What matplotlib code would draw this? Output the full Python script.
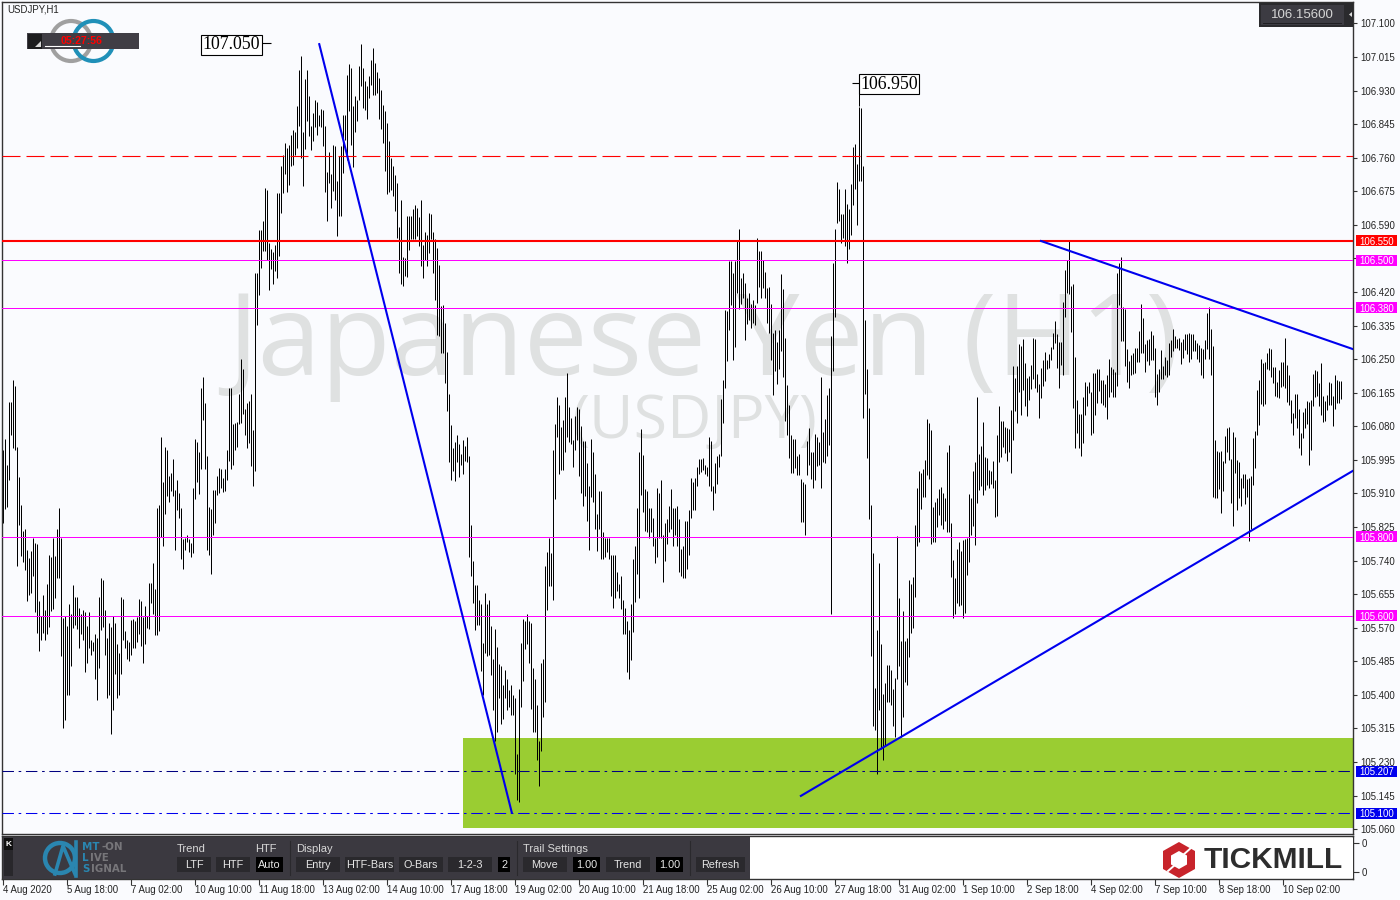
import matplotlib
matplotlib.use("Agg")
import matplotlib.pyplot as plt
from matplotlib.patches import Rectangle, Arc, Polygon
from matplotlib.transforms import blended_transform_factory, ScaledTranslation

SYMBOL = "USDJPY,H1"
BG = "#fafbfe"

# bar highs / lows, in points (0.001) above 105.000, one per hourly bar
high_points = [
1021,1049,983,1141,1141,1196,1182,1027,951,882,
816,819,768,747,764,796,785,783,637,599,
652,616,680,753,748,796,751,819,872,796,
594,599,574,629,604,677,647,647,621,604,
616,611,574,611,540,535,553,544,647,697,
692,614,543,583,571,599,581,530,507,647,
642,561,538,535,589,593,586,596,642,637,
596,625,601,684,684,735,669,872,880,1054,
940,1027,1021,954,963,996,918,945,912,872,
794,796,806,794,785,925,1049,1039,1014,1178,
1204,1138,1004,875,870,918,920,954,975,971,
948,971,1021,1178,1178,1085,1089,1092,1163,1250,
1224,1123,1140,1143,1161,1070,1468,1468,1578,1578,
1599,1683,1679,1544,1530,1521,1540,1671,1671,1738,
1768,1797,1785,1793,1818,1829,1826,1890,1981,2017,
1824,1959,1981,1917,1840,1872,1907,1902,1869,1884,
1882,1841,1725,1774,1719,1791,1789,1702,1765,1789,
1869,1869,1970,1996,1987,1890,1916,1907,1993,2049,
1988,1954,1941,1966,2008,2038,2000,1976,1962,1932,
1894,1878,1848,1803,1759,1738,1717,1696,1585,1654,
1509,1506,1613,1613,1612,1629,1639,1633,1609,1654,
1538,1571,1565,1620,1618,1571,1553,1532,1489,1384,
1388,1342,1269,1163,1084,1026,1040,1059,1036,1011,
1046,1031,1054,1006,829,740,679,679,639,631,
532,658,629,641,575,492,568,522,477,472,
424,462,441,413,424,401,392,251,416,532,
591,586,606,586,583,469,441,375,284,482,
492,727,763,798,758,1019,1087,1153,1135,1077,
1097,1153,1215,1130,1102,1046,1105,1130,1125,1082,
1044,1044,986,930,1049,1016,958,857,916,917,
813,798,798,798,755,755,753,712,682,700,
639,621,588,565,631,743,776,874,1016,1072,
1008,922,915,872,872,849,796,925,912,943,
806,836,846,879,922,874,872,879,846,770,
776,841,839,867,948,938,950,976,996,998,
1001,981,978,1054,1044,930,988,1006,1011,1148,
1198,1374,1372,1498,1498,1469,1498,1549,1579,1455,
1467,1442,1404,1417,1389,1399,1386,1556,1523,1523,
1500,1471,1429,1432,1389,1315,1323,1293,1323,1465,
1427,1303,1184,1133,1057,1047,1047,1006,1011,946,
938,933,1044,1075,1014,1014,1060,1054,1039,1206,
1065,1098,1158,1176,1308,1493,1579,1698,1680,1617,
1617,1680,1642,1630,1693,1786,1794,1743,1888,1885,
1738,1348,1224,1127,882,759,417,565,734,529,
402,430,476,476,463,414,443,802,645,537,
612,536,545,690,682,699,829,924,966,963,
973,994,1099,1088,1071,876,889,899,922,927,
912,899,1015,1032,835,741,695,769,786,764,
792,794,798,908,898,966,989,1154,1009,1029,
1090,1002,999,969,966,992,943,1057,1131,1093,
1093,1078,1075,1073,1121,1232,1202,1232,1288,1283,
1300,1239,1202,1207,1235,1303,1300,1212,1187,1227,
1247,1268,1247,1262,1280,1316,1346,1313,1293,1293,
1394,1475,1500,1549,1435,1440,1255,1146,1111,1111,
1154,1192,1182,1192,1166,1216,1214,1224,1224,1197,
1197,1187,1209,1250,1230,1224,1218,1468,1493,1508,
1381,1376,1275,1245,1260,1265,1278,1278,1321,1389,
1354,1288,1298,1300,1321,1311,1277,1212,1224,1273,
1232,1255,1247,1290,1298,1326,1308,1300,1303,1293,
1300,1313,1313,1316,1313,1313,1298,1290,1285,1278,
1275,1298,1366,1383,1326,1283,1045,1017,1014,1017,
992,1055,1075,1078,997,1065,1052,994,989,948,
959,959,946,948,954,1050,1067,1171,1197,1250,
1240,1242,1265,1278,1275,1230,1230,1191,1222,1242,
1242,1303,1235,1209,1146,1113,1161,1161,1123,1062,
1116,1126,1143,1141,1146,1212,1222,1219,1189,1240,
1156,1143,1159,1191,1189,1156,1209,1197,1194,1194,
]
low_points = [
836,870,875,945,1059,1026,1021,726,830,751,
736,716,637,652,659,701,611,556,510,539,
556,540,553,572,613,618,645,697,697,498,
317,336,401,401,474,569,578,568,520,553,
540,458,482,520,500,510,439,388,469,564,
571,502,391,399,301,361,454,391,401,454,
538,520,490,487,502,518,520,535,553,525,
480,530,569,568,633,606,551,551,561,800,
778,859,903,888,915,903,768,867,849,743,
720,766,786,763,750,758,897,938,908,971,
1097,971,768,753,707,806,834,905,910,925,
913,916,945,991,973,983,1021,1027,1087,1089,
1110,1058,1025,1038,979,929,966,1337,1413,1480,
1523,1523,1502,1426,1477,1439,1472,1456,1510,1620,
1671,1720,1674,1692,1738,1742,1768,1785,1840,1759,
1688,1782,1852,1814,1779,1802,1838,1818,1841,1838,
1789,1672,1599,1696,1633,1675,1654,1561,1612,1612,
1721,1806,1755,1878,1791,1736,1824,1852,1905,1941,
1886,1882,1859,1911,1945,1920,1920,1924,1859,1833,
1796,1726,1667,1672,1679,1662,1624,1557,1468,1439,
1434,1460,1458,1527,1553,1553,1554,1561,1536,1485,
1456,1502,1485,1519,1553,1468,1401,1312,1308,1266,
1266,1190,1118,989,943,966,941,989,951,981,
960,992,989,749,700,633,565,578,578,460,
401,506,498,500,451,363,283,305,391,326,
340,391,363,370,350,350,201,135,130,369,
435,517,530,482,365,307,307,234,170,259,
343,383,616,675,675,641,897,1052,960,970,
970,1016,1052,1041,1034,978,1021,1046,955,910,
877,903,839,768,902,889,819,765,821,743,
745,750,763,743,651,621,646,662,646,618,
553,553,459,439,489,558,636,705,646,907,
864,816,813,796,813,778,735,750,798,798,
687,740,781,813,821,778,806,776,710,700,
697,697,720,753,849,867,869,930,960,965,
970,960,955,930,915,869,912,935,978,1006,
1089,1176,1245,1324,1386,1248,1280,1417,1376,1389,
1404,1298,1338,1348,1328,1341,1336,1391,1432,1404,
1429,1404,1341,1315,1247,1158,1219,1186,1224,1270,
1204,1093,1057,999,961,961,974,956,956,838,
837,804,956,981,946,923,943,979,981,925,
989,986,1006,1032,604,1219,1356,1595,1600,1545,
1556,1536,1494,1530,1564,1640,1680,1590,1700,1701,
1102,1161,999,846,498,322,311,201,363,264,
236,270,381,383,375,322,294,441,472,294,
343,433,424,495,556,570,647,776,788,870,
902,902,957,946,781,787,787,824,855,829,
820,840,812,812,698,594,604,632,624,627,
594,607,703,736,804,827,779,885,918,928,
905,918,931,923,933,923,850,852,989,1002,
1027,1012,992,1014,961,1045,1118,1088,1166,1108,
1171,1131,1106,1146,1174,1199,1176,1166,1100,1151,
1181,1194,1224,1227,1247,1275,1290,1227,1176,1235,
1209,1356,1417,1414,1318,1126,1024,1063,1024,1004,
1037,1108,1131,1164,1057,1063,1108,1138,1169,1138,
1133,1128,1098,1154,1166,1154,1154,1181,1387,1295,
1295,1232,1192,1176,1209,1212,1214,1242,1242,1265,
1265,1217,1245,1235,1248,1248,1154,1133,1166,1199,
1199,1209,1204,1209,1256,1270,1278,1278,1273,1237,
1254,1273,1262,1242,1250,1270,1270,1250,1242,1209,
1202,1250,1275,1250,1209,900,898,898,921,860,
916,986,1014,994,885,827,961,867,898,878,
923,883,900,789,819,931,974,1057,1083,1136,
1131,1136,1224,1222,1204,1189,1156,1153,1151,1179,
1181,1176,1141,1133,1088,1057,1100,1075,1024,1007,
1050,1075,1085,981,1019,1131,1153,1156,1131,1108,
1090,1093,1121,1133,1133,1080,1123,1138,1138,1148,
]
bar_numbers = list(range(1, len(high_points) + 1))

price_ticks = [107.100,107.015,106.930,106.845,106.760,106.675,106.590,106.505,106.420,
               106.335,106.250,106.165,106.080,105.995,105.910,105.825,105.740,105.655,
               105.570,105.485,105.400,105.315,105.230,105.145,105.060]
covered_tick = 106.505
time_labels = ["4 Aug 2020","5 Aug 18:00","7 Aug 02:00","10 Aug 10:00","11 Aug 18:00",
               "13 Aug 02:00","14 Aug 10:00","17 Aug 18:00","19 Aug 02:00","20 Aug 10:00",
               "21 Aug 18:00","25 Aug 02:00","26 Aug 10:00","27 Aug 18:00","31 Aug 02:00",
               "1 Sep 10:00","2 Sep 18:00","4 Sep 02:00","7 Sep 10:00","8 Sep 18:00","10 Sep 02:00"]
tick_bars = [1 + 32 * k for k in range(len(time_labels))]

tagged_levels = [106.550, 106.500, 106.380, 105.800, 105.600, 105.207, 105.100]
tag_colors = ["#ff0000", "#ff00ff", "#ff00ff", "#ff00ff", "#ff00ff", "#0000ee", "#0000ee"]
dashed_level = 106.765
fall_bars, fall_prices = [159.1, 255.6], [107.05, 105.10]
rise_bars, rise_prices = [399.6, 676.3], [105.143, 105.968]
cap_bars, cap_prices = [519.6, 676.3], [106.550, 106.275]
zone_bars, zone_prices = [231.1, 677], [105.062, 105.292]
peak_a, peak_b = 107.050, 106.950
current_price = "106.15600"

W, H = 1400, 900
fig = plt.figure(figsize=(14, 9), dpi=100, facecolor=BG)
plt.rcParams["font.family"] = ["Liberation Sans", "DejaVu Sans"]

def add_box(x0, y0, x1, y1):
    return fig.add_axes([x0 / W, 1 - y1 / H, (x1 - x0) / W, (y1 - y0) / H])

ax = add_box(2, 2, 1353, 834)
ax.set_facecolor(BG)
ax.set_xlim(0.6, 676.1)
ax.set_ylim(107.1 - 810.6 / 395, 107.1 + 21.4 / 395)

# watermark
wm = dict(color="#dfe1e1", zorder=0, ha="center", va="center", family="Open Sans")
ax.text(351, 106.285, "Japanese Yen (H1)", fontsize=82, **wm)
ax.text(347, 106.09, "(USDJPY)", fontsize=44, **wm)

# demand zone
ax.add_patch(Rectangle((zone_bars[0], zone_prices[0]), zone_bars[1] - zone_bars[0],
                       zone_prices[1] - zone_prices[0], facecolor="#9acd32", edgecolor="none", zorder=1))

# price bars
bars = ax.vlines(bar_numbers, [105 + v / 1000 for v in low_points], [105 + v / 1000 for v in high_points],
                 colors="black", linewidth=0.72, zorder=2)
bars.set_snap(True)

# levels
dashdot = (0, (11, 4.5, 2.5, 4.5))
for lev, col in zip(tagged_levels, tag_colors):
    if lev == 106.550:
        ax.axhline(lev, color=col, lw=1.5, zorder=3)
    elif lev == 105.207:
        ax.axhline(lev, color="#000080", lw=0.75, ls=dashdot, zorder=3)
    elif lev == 105.100:
        ax.axhline(lev, color=col, lw=0.75, ls=dashdot, zorder=3)
    else:
        ax.axhline(lev, color=col, lw=0.72, zorder=3)
ax.axhline(dashed_level, color="#ff0000", lw=0.8, ls=(0, (16.2, 5.4)), zorder=3)

# trend lines
for xs, ys in ((fall_bars, fall_prices), (rise_bars, rise_prices), (cap_bars, cap_prices)):
    ax.plot(xs, ys, color="#0000ee", lw=1.5, zorder=4, solid_capstyle="butt")

# peak labels
ax.hlines(peak_a, 130.8, 135.3, color="black", lw=0.8, zorder=5)
ax.text(129.6, peak_a - 0.004, "%.3f" % peak_a, family="Liberation Serif", fontsize=12.8, ha="right", va="center",
        zorder=6, bbox=dict(facecolor="white", edgecolor="black", linewidth=0.8, pad=1.2))
ax.hlines(peak_b, 425.8, 429.3, color="black", lw=0.8, zorder=5)
bv = ax.vlines(429.3, peak_b, 106.89, color="black", lw=0.72, zorder=5)
bv.set_snap(True)
ax.text(429.7, peak_b - 0.004, "%.3f" % peak_b, family="Liberation Serif", fontsize=12.8, ha="left", va="center",
        zorder=6, bbox=dict(facecolor="white", edgecolor="black", linewidth=0.8, pad=1.2))

ax.text(0.0037, 0.9905, SYMBOL, transform=ax.transAxes, fontsize=6.9, color="#222222", va="center", zorder=7)

# axes dressing
ax.yaxis.tick_right()
ax.set_yticks(price_ticks)
ax.set_yticklabels(["" if p == covered_tick else "%.3f" % p for p in price_ticks], fontsize=6.9, color="#222222")
ax.tick_params(axis="y", length=3, width=0.8, pad=2, color="#333333")
ax.set_xticks([])
for s in ax.spines.values():
    s.set_color("#333333")
    s.set_linewidth(1.0)

# coloured price tags
tr = blended_transform_factory(ax.transAxes, ax.transData)
tag_height = 11 / 395
for lev, col in zip(tagged_levels, tag_colors):
    ax.add_patch(Rectangle((1.00222, lev - tag_height / 2), 41 / 1351, tag_height, transform=tr, facecolor=col,
                           edgecolor="none", clip_on=False, zorder=8))
    ax.text(1.00222 + 20.5 / 1351, lev, "%.3f" % lev, transform=tr, fontsize=6.9, color="white", va="center_baseline",
            ha="center", clip_on=False, zorder=9)

# sub window
sub = add_box(2, 836, 1353, 879)
sub.set_facecolor("white")
sub.set_xlim(ax.get_xlim())
sub.set_ylim(0, 1)
sub.yaxis.tick_right()
sub.set_yticks([0.84, 0.16])
sub.set_yticklabels(["0", "0"], fontsize=6.9, color="#222222")
sub.set_xticks(tick_bars)
sub.set_xticklabels(time_labels, fontsize=6.9, color="#222222", ha="left")
shift = ScaledTranslation(-1 / 100, 0, fig.dpi_scale_trans)
for t in sub.get_xticklabels():
    t.set_transform(t.get_transform() + shift)
sub.tick_params(axis="y", length=4, width=0.8, pad=2, color="#333333")
sub.tick_params(axis="x", length=4, width=0.8, pad=0.5, color="#333333")
for s in sub.spines.values():
    s.set_color("#333333")
    s.set_linewidth(1.0)

# overlay in pixel units for the terminal's widgets
ov = fig.add_axes([0, 0, 1, 1], facecolor="none", zorder=10)
ov.set_xlim(0, W)
ov.set_ylim(H, 0)
ov.axis("off")

def rect(x0, y0, x1, y1, color, **kw):
    ov.add_patch(Rectangle((x0, y0), x1 - x0, y1 - y0, facecolor=color, edgecolor="none", **kw))

def label(x, y, s, color="#d8d8d8", size=7.6, ha="left", **kw):
    ov.text(x, y, s, color=color, fontsize=size, ha=ha, va="center", **kw)

# current price box
rect(1259, 3, 1353, 27, "#2a2a2d")
rect(1261, 5, 1344, 25, "#3c3b42")
ov.plot([1263, 1341], [22.5, 22.5], color="#1f1f22", lw=0.7)
label(1302, 14.5, current_price, color="#d6d6d6", size=9.5, ha="center")
ov.add_patch(Polygon([[1349, 14.5], [1352, 12], [1352, 17]], facecolor="#dddddd", edgecolor="none"))

# ring logo
for cx, col in ((71, "#a0a0a0"), (93.5, "#2090b8")):
    ov.add_patch(Arc((cx, 41), 40, 40, theta1=195, theta2=345, color=col, lw=3.0))
    ov.add_patch(Arc((cx, 41), 40, 40, theta1=15, theta2=165, color=col, lw=3.0))
rect(27, 33, 139, 49, "#403e45")
rect(28, 34, 42, 49, "#1d1d1f")
ov.add_patch(Polygon([[35, 47], [41, 47], [41, 41]], facecolor="#d8d8d8", edgecolor="none"))
ov.plot([45, 80], [46.3, 46.3], color="white", lw=0.8)
label(82, 40.5, "05:27:56", color="#ff0000", size=7.6, ha="center", weight="bold")

# toolbar
rect(3, 837, 750, 879, "#3b3940")
rect(4, 838, 13, 876, "#28272b")
rect(4, 838, 13, 850, "#111111")
label(8.5, 844, "K", color="white", size=6, ha="center", weight="bold")
ov.add_patch(Arc((60, 858), 30, 30, theta1=0, theta2=360, color="#2a86b0", lw=3.2))
ov.plot([55, 63, 75], [874, 846, 874], color="#2a86b0", lw=2.6)
ov.plot([76, 76], [842, 876], color="#2a86b0", lw=2.6)
logo_font = dict(size=7.4, weight="bold", family="DejaVu Sans")
label(82, 847, "MT", color="#2a86b0", **logo_font)
label(101, 847, "-ON", color="#77767a", **logo_font)
label(82, 858, "L", color="#2a86b0", **logo_font)
label(90, 858, "IVE", color="#77767a", **logo_font)
label(82, 869, "S", color="#2a86b0", **logo_font)
label(91, 869, "IGNAL", color="#77767a", **logo_font)

for x, s in ((177, "Trend"), (255, "HTF"), (296, "Display"), (523, "Trail Settings")):
    label(x, 849, s, size=8)
for x in (290, 517, 690):
    ov.plot([x, x], [841, 875], color="#2a292d", lw=0.8)
buttons = [(177, 211, "LTF", 0), (216, 250, "HTF", 0), (256, 283, "Auto", 1), (296, 340, "Entry", 0),
           (345, 394, "HTF-Bars", 0), (399, 443, "O-Bars", 0), (448, 492, "1-2-3", 0), (498, 510, "2", 1),
           (523, 567, "Move", 0), (573, 600, "1.00", 1), (606, 650, "Trend", 0), (656, 683, "1.00", 1),
           (696, 745, "Refresh", 0)]
for x0, x1, s, black in buttons:
    rect(x0, 857, x1, 872, "#000000" if black else "#2a292d")
    label((x0 + x1) / 2, 864.5, s, color="#e6e6e6", ha="center", size=7.8)

# broker logo
rect(1163, 838, 1353, 878, "white")
ov.add_patch(Polygon([[1179, 842], [1195, 851], [1195, 869], [1179, 878], [1163, 869], [1163, 851]],
                     facecolor="#c8242b", edgecolor="none"))
ov.add_patch(Polygon([[1179, 851], [1187, 855.5], [1187, 864.5], [1179, 869], [1171, 864.5], [1171, 855.5]],
                     facecolor="white", edgecolor="none"))
ov.plot([1168, 1176], [871, 864], color="white", lw=1.4)
ov.plot([1182, 1192], [856, 847], color="white", lw=1.4)
label(1204, 860, "TICKMILL", color="#2d2d2d", size=21.5, weight="bold")

fig.savefig("out.png", dpi=100, facecolor=BG)
